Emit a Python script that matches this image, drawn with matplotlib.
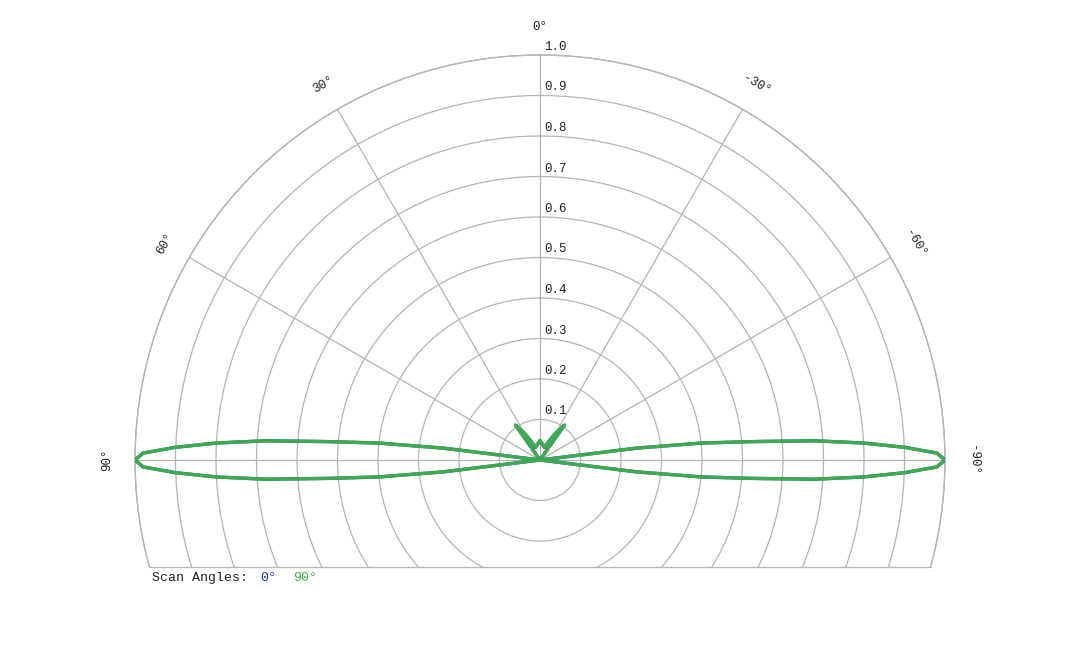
import numpy as np
import matplotlib
matplotlib.use("Agg")
import matplotlib.pyplot as plt
from matplotlib.patches import Rectangle
from matplotlib.lines import Line2D

plt.rcParams['font.family'] = ['Liberation Mono', 'DejaVu Sans Mono']

# pattern samples (degrees, normalised gain)
theta_deg = [-100, -98, -97, -96, -95, -94, -93, -92, -91, -90, -89, -88, -87, -86, -85, -84, -83, -82,
             -36, -35, -31, -28, -24, -20, -8, 0, 8, 20, 24, 28, 31, 35, 36,
             82, 83, 84, 85, 86, 87, 88, 89, 90, 91, 92, 93, 94, 95, 96, 97, 98, 100]

gain_90 = [0, 0, 0.24, 0.40, 0.52, 0.68, 0.80, 0.90, 0.98, 1.00, 0.98, 0.90, 0.80, 0.68, 0.52, 0.40, 0.24, 0,
           0, 0.106, 0.080, 0.064, 0.045, 0.034, 0.041, 0.049, 0.041, 0.034, 0.045, 0.064, 0.080, 0.106, 0,
           0, 0.24, 0.40, 0.52, 0.68, 0.80, 0.90, 0.98, 1.00, 0.98, 0.90, 0.80, 0.68, 0.52, 0.40, 0.24, 0, 0]

gain_0 = [0, 0, 0.24, 0.40, 0.52, 0.68, 0.80, 0.90, 0.98, 1.00, 0.98, 0.90, 0.80, 0.68, 0.52, 0.40, 0.24, 0,
          0, 0.104, 0.079, 0.063, 0.044, 0.033, 0.040, 0.047, 0.040, 0.033, 0.044, 0.063, 0.079, 0.104, 0,
          0, 0.24, 0.40, 0.52, 0.68, 0.80, 0.90, 0.98, 1.00, 0.98, 0.90, 0.80, 0.68, 0.52, 0.40, 0.24, 0, 0]

scan_labels = ['0°', '90°']
angle_ticks = [-90, -60, -30, 0, 30, 60, 90]
r_ticks = [0.1, 0.2, 0.3, 0.4, 0.5, 0.6, 0.7, 0.8, 0.9, 1.0]

blue = '#2b35a0'
green = '#3db54a'
grid_c = '#b4b4b4'

W, H = 1080, 648
cx, cy, R = 540, 188, 405   # centre in px from bottom-left, radius in px
cut = 0.264                  # bottom chord below centre, as fraction of radius

fig = plt.figure(figsize=(W / 100, H / 100), dpi=100)
ax = fig.add_axes([(cx - R) / W, (cy - R) / H, 2 * R / W, 2 * R / H], projection='polar')
ax.set_theta_zero_location('N')
ax.set_theta_direction(1)
ax.set_thetagrids([a % 360 for a in angle_ticks], labels=[])
ax.set_thetalim(0, 2 * np.pi)
ax.set_rticks(r_ticks)
ax.set_yticklabels([])
ax.set_ylim(0, 1.0)
ax.grid(True, color=grid_c, lw=0.9)
ax.patch.set_visible(False)
ax.tick_params(length=0)

clip = Rectangle((-0.05, 0.5 - 0.5 * cut), 1.1, 1.0, transform=ax.transAxes)
for gl in ax.xaxis.get_gridlines() + ax.yaxis.get_gridlines():
    gl.set_clip_path(clip)
sp = ax.spines['polar']
sp.set_edgecolor(grid_c)
sp.set_linewidth(0.9)
sp.set_clip_path(clip)

# bottom chord
half = 0.5 * np.sqrt(1 - cut ** 2)
ax.add_line(Line2D([0.5 - half, 0.5 + half], [0.5 - 0.5 * cut] * 2,
                   transform=ax.transAxes, color=grid_c, lw=0.9, clip_on=False))

th = np.deg2rad(theta_deg)
ax.plot(th, gain_0, color=blue, lw=2.4, zorder=3)
ax.plot(th, gain_90, color=green, lw=2.4, alpha=0.92, zorder=4)

# angle labels, turned along the circle
for a in angle_ticks:
    ax.text(np.deg2rad(a), 1.07, f"{a}°", rotation=a, rotation_mode='anchor',
            ha='center', va='center', fontsize=9, color='#222222')

for r in r_ticks:
    ax.annotate(f"{r:.1f}", xy=(0, r), xytext=(4, 8), textcoords='offset pixels',
                ha='left', va='center', fontsize=9, color='#222222')

ly = 1 - 578 / H
fig.text(152 / W, ly, 'Scan Angles:', fontsize=9.5, color='#222222', va='center')
fig.text(260 / W, ly, scan_labels[0], fontsize=9.5, color=blue, va='center')
fig.text(293 / W, ly, scan_labels[1], fontsize=9.5, color=green, va='center')

fig.savefig('out.png', dpi=100)
